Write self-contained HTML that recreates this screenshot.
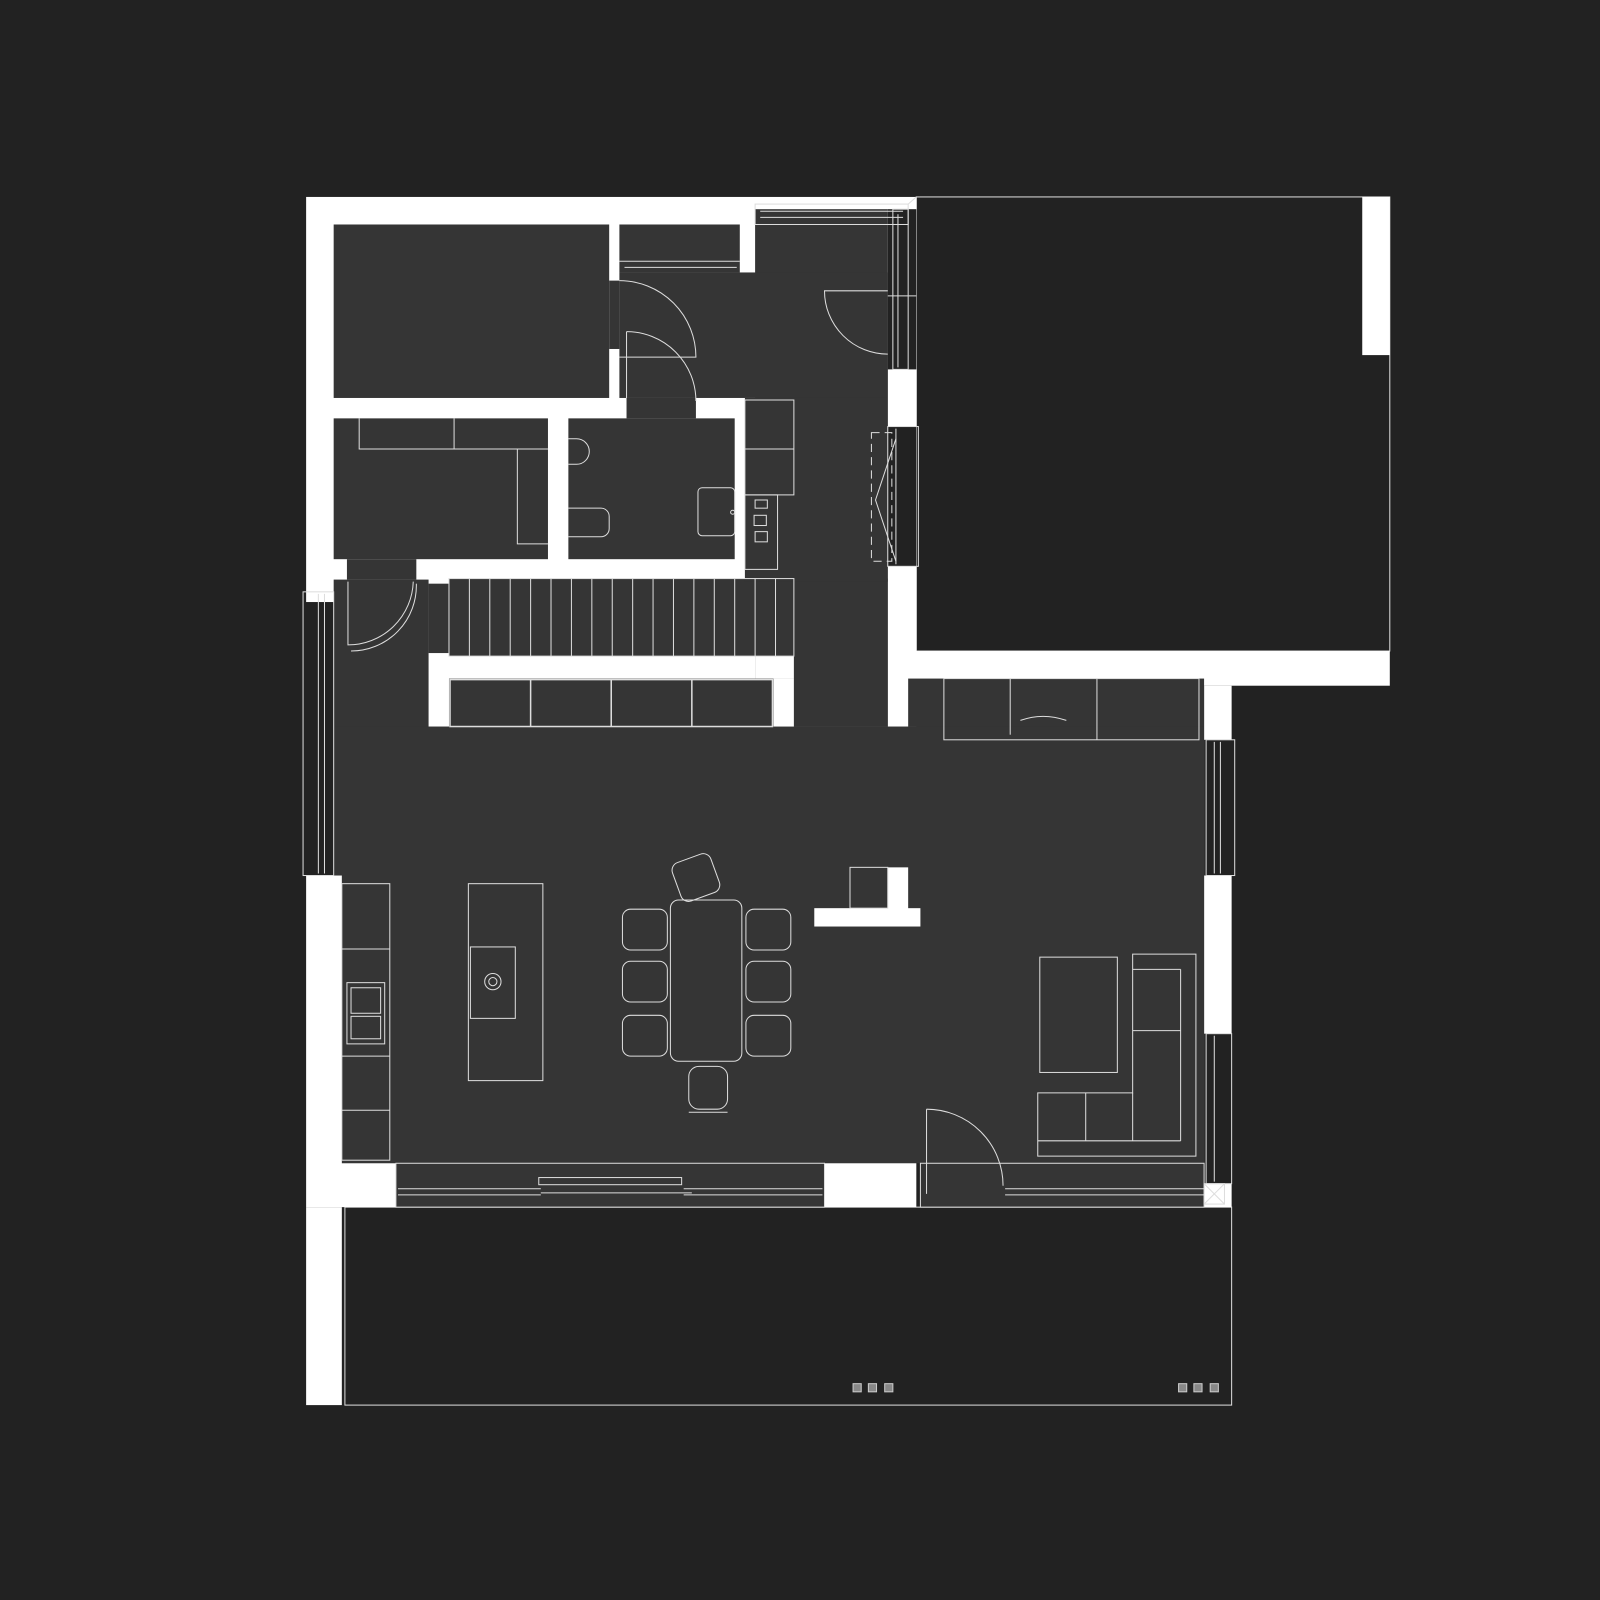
<!DOCTYPE html>
<html><head><meta charset="utf-8"><style>html,body{margin:0;padding:0;background:#222}svg{display:block}</style></head>
<body>
<svg width="1600" height="1600" viewBox="0 0 1568 1568" xmlns="http://www.w3.org/2000/svg">
<rect width="1568" height="1568" fill="#222"/>
<rect x="898" y="193" width="464" height="445" fill="#222" stroke="#ddd" stroke-width="1"/>
<rect x="338" y="1183" width="869" height="194" fill="#222" stroke="#ddd" stroke-width="1"/>
<g fill="#fff">
<rect x="300" y="193" width="598" height="990"/>
<rect x="870" y="638" width="492" height="34"/>
<rect x="1335" y="193" width="27" height="155"/>
<rect x="1180" y="672" width="27" height="511"/>
<rect x="300" y="1183" width="35" height="194"/>
</g>
<g fill="#353535">
<rect x="327" y="220" width="270" height="170"/>
<rect x="740" y="205" width="130" height="507"/>
<rect x="607" y="267" width="263" height="123"/>
<rect x="607" y="220" width="118" height="47"/>
<rect x="327" y="410" width="210" height="138"/>
<rect x="557" y="410" width="163" height="138"/>
<rect x="614" y="390" width="68" height="20"/>
<rect x="597" y="275" width="10" height="67"/>
<rect x="340" y="548" width="68" height="20"/>
<rect x="327" y="568" width="93" height="290"/>
<rect x="420" y="572" width="20" height="68"/>
<rect x="440" y="567" width="338" height="76"/>
<rect x="335" y="712" width="845" height="428"/>
<rect x="890" y="665" width="290" height="47"/>
<rect x="327" y="712" width="10" height="146"/>
<rect x="440" y="665" width="318" height="47"/>
<rect x="778" y="567" width="92" height="145"/>
<rect x="730" y="390" width="140" height="180"/>
<rect x="388" y="1140" width="420" height="43"/>
<rect x="902" y="1140" width="278" height="43"/>
</g>
<rect x="740" y="643" width="38" height="22" fill="#fff"/>
<rect x="758" y="665" width="20" height="47" fill="#fff"/>
<rect x="870" y="205" width="28" height="157" fill="#222"/>
<rect x="870" y="418" width="28" height="137" fill="#222"/>
<rect x="297" y="590" width="30" height="268" fill="#222"/>
<rect x="1180" y="725" width="30" height="133" fill="#222"/>
<rect x="1180" y="1013" width="27" height="147" fill="#222"/>
<g fill="none" stroke="#ddd" stroke-width="1">
<rect x="740" y="200" width="150" height="20"/><line x1="745" y1="207" x2="885" y2="207"/><line x1="745" y1="213" x2="885" y2="213"/>
<rect x="875" y="205" width="15" height="157"/><line x1="880" y1="210" x2="880" y2="360"/><line x1="890" y1="200" x2="898" y2="193"/><line x1="870" y1="290" x2="898" y2="290"/>
<rect x="870" y="418" width="30" height="137"/><line x1="878" y1="420" x2="878" y2="553"/>
<rect x="854" y="424" width="20" height="126" stroke-dasharray="8,5"/>
<path d="M878 430 L858 490 L878 550"/>
<rect x="297" y="580" width="30" height="278"/><line x1="312" y1="582" x2="312" y2="856"/><line x1="318" y1="582" x2="318" y2="856"/>
<rect x="1182" y="725" width="28" height="133"/><line x1="1190" y1="727" x2="1190" y2="856"/><line x1="1196" y1="727" x2="1196" y2="856"/>
<rect x="1182" y="1013" width="25" height="147"/><line x1="1190" y1="1015" x2="1190" y2="1158"/>
<rect x="388" y="1140" width="420" height="43"/><line x1="390" y1="1165" x2="530" y2="1165"/><line x1="390" y1="1171" x2="530" y2="1171"/><rect x="528" y="1154" width="140" height="7"/><line x1="670" y1="1165" x2="806" y2="1165"/><line x1="670" y1="1171" x2="806" y2="1171"/>
<line x1="530" y1="1169" x2="678" y2="1169"/>
<rect x="902" y="1140" width="278" height="43"/><line x1="985" y1="1165" x2="1180" y2="1165"/><line x1="985" y1="1171" x2="1180" y2="1171"/>
<rect x="1180" y="1160" width="20" height="20"/><line x1="1180" y1="1160" x2="1200" y2="1180"/><line x1="1200" y1="1160" x2="1180" y2="1180"/>
<path d="M607 275 A75 75 0 0 1 682 350 L607 350"/>
<path d="M614 325 A68 68 0 0 1 682 393"/><line x1="614" y1="325" x2="614" y2="390"/>
<path d="M870 285 L808 285 A62 62 0 0 0 870 347"/>
<path d="M341 570 L341 632 A64 64 0 0 0 405 570"/>
<path d="M408 572 A64 64 0 0 1 344 638"/>
<path d="M908 1087 A75 75 0 0 1 983 1162"/><line x1="908" y1="1087" x2="908" y2="1170"/>
<line x1="612" y1="262" x2="722" y2="262"/><line x1="607" y1="256" x2="725" y2="256"/>
<path d="M352 410 V440 H537 M445 410 V440 M507 440 V533 H537"/>
<path d="M557 430 h8 a12 12 0 0 1 0 25 h-8"/><path d="M557 498 h32 a8 8 0 0 1 8 8 v12 a8 8 0 0 1 -8 8 h-32"/><rect x="684" y="478" width="36" height="47" rx="4"/><circle cx="718" cy="502" r="2"/>
<rect x="730" y="392" width="48" height="93"/><line x1="730" y1="440" x2="778" y2="440"/>
<rect x="730" y="485" width="32" height="73"/><rect x="740" y="490" width="12" height="8"/><rect x="739" y="505" width="12" height="10"/><rect x="740" y="521" width="12" height="10"/>
<rect x="440" y="567" width="338" height="76"/>
</g>
<g stroke="#ddd" stroke-width="1">
<line x1="460" y1="567" x2="460" y2="643"/><line x1="480" y1="567" x2="480" y2="643"/><line x1="500" y1="567" x2="500" y2="643"/><line x1="520" y1="567" x2="520" y2="643"/><line x1="540" y1="567" x2="540" y2="643"/><line x1="560" y1="567" x2="560" y2="643"/><line x1="580" y1="567" x2="580" y2="643"/><line x1="600" y1="567" x2="600" y2="643"/><line x1="620" y1="567" x2="620" y2="643"/><line x1="640" y1="567" x2="640" y2="643"/><line x1="660" y1="567" x2="660" y2="643"/><line x1="680" y1="567" x2="680" y2="643"/><line x1="700" y1="567" x2="700" y2="643"/><line x1="720" y1="567" x2="720" y2="643"/><line x1="740" y1="567" x2="740" y2="643"/><line x1="760" y1="567" x2="760" y2="643"/>
</g>
<g fill="none" stroke="#ddd" stroke-width="1.5">
<rect x="441" y="666" width="316" height="46"/><line x1="520" y1="666" x2="520" y2="712"/><line x1="599" y1="666" x2="599" y2="712"/><line x1="678" y1="666" x2="678" y2="712"/>
</g>
<g fill="none" stroke="#ddd" stroke-width="1">
<rect x="925" y="665" width="250" height="60"/><line x1="990" y1="665" x2="990" y2="720"/><line x1="1075" y1="665" x2="1075" y2="725"/><path d="M1000 706 q22 -8 45 0"/>
<rect x="335" y="866" width="47" height="271"/><line x1="335" y1="930" x2="382" y2="930"/><line x1="335" y1="1035" x2="382" y2="1035"/><line x1="335" y1="1088" x2="382" y2="1088"/>
<rect x="340" y="963" width="37" height="60"/><rect x="344" y="968" width="29" height="25"/><rect x="344" y="996" width="29" height="22"/>
<rect x="459" y="866" width="73" height="193"/><rect x="461" y="928" width="44" height="70"/><circle cx="483" cy="962" r="8"/><circle cx="483" cy="962" r="4"/>
<rect x="657" y="882" width="70" height="158" rx="8"/>
<rect x="610" y="891" width="44" height="40" rx="8"/><rect x="610" y="942" width="44" height="40" rx="8"/><rect x="610" y="995" width="44" height="40" rx="8"/>
<rect x="731" y="891" width="44" height="40" rx="8"/><rect x="731" y="942" width="44" height="40" rx="8"/><rect x="731" y="995" width="44" height="40" rx="8"/>
<rect x="675" y="1045" width="38" height="42" rx="10"/><line x1="675" y1="1090" x2="713" y2="1090"/><rect x="662" y="840" width="40" height="40" rx="8" transform="rotate(-20 682 860)"/>
<rect x="1019" y="938" width="76" height="113"/>
<path d="M1110 935 H1172 V1133 H1017 V1071 H1110 Z"/><line x1="1110" y1="950" x2="1157" y2="950"/><line x1="1157" y1="950" x2="1157" y2="1118"/><line x1="1017" y1="1118" x2="1157" y2="1118"/><line x1="1064" y1="1071" x2="1064" y2="1118"/><line x1="1110" y1="1010" x2="1157" y2="1010"/><line x1="1110" y1="1071" x2="1110" y2="1118"/>
</g>
<rect x="798" y="890" width="104" height="18" fill="#fff"/>
<rect x="870" y="850" width="20" height="42" fill="#fff"/>
<rect x="833" y="850" width="37" height="40" fill="none" stroke="#ddd"/>
<g fill="#888" stroke="#ccc"><rect x="836" y="1356" width="8" height="8"/><rect x="851" y="1356" width="8" height="8"/><rect x="867" y="1356" width="8" height="8"/><rect x="1155" y="1356" width="8" height="8"/><rect x="1170" y="1356" width="8" height="8"/><rect x="1186" y="1356" width="8" height="8"/></g>
</svg>
</body></html>
